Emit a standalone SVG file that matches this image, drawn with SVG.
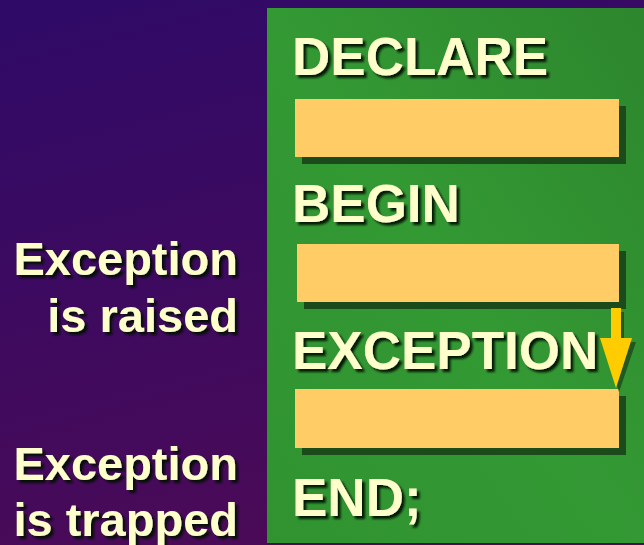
<svg xmlns="http://www.w3.org/2000/svg" width="644" height="545" viewBox="0 0 644 545">
  <style>
    .kw { font-family: "Liberation Sans", Arial, sans-serif; font-weight: bold; font-size: 53px; fill: #FFFFCC; filter: url(#txtShadow); }
    .side { font-family: "Liberation Sans", Arial, sans-serif; font-weight: bold; font-size: 47px; fill: #FFFFCC; text-anchor: end; filter: url(#txtShadow); }
    .slot { fill: #FFCC66; }
    .slotShadow { fill: #1B4A1B; }
  </style>
  <defs>
    <linearGradient id="bg" x1="0" y1="0" x2="0.3" y2="1">
      <stop offset="0" stop-color="#2F0A68"/>
      <stop offset="1" stop-color="#4A0A58"/>
    </linearGradient>
    <linearGradient id="panel" x1="1" y1="0" x2="0" y2="1">
      <stop offset="0" stop-color="#2D862D"/>
      <stop offset="0.5" stop-color="#339933"/>
      <stop offset="1" stop-color="#309330"/>
    </linearGradient>
    <filter id="txtShadow" x="-10%" y="-10%" width="130%" height="140%">
      <feGaussianBlur in="SourceAlpha" stdDeviation="0.8"/>
      <feOffset dx="3" dy="3" result="b"/>
      <feFlood flood-color="#061006" flood-opacity="0.9"/>
      <feComposite in2="b" operator="in"/>
      <feMerge><feMergeNode/><feMergeNode in="SourceGraphic"/></feMerge>
    </filter>
  </defs>

  <rect x="0" y="0" width="644" height="545" fill="url(#bg)"/>

  <!-- code block panel -->
  <g id="panel-block">
    <rect x="267" y="8" width="377" height="535" fill="url(#panel)"/>
  </g>

  <g id="declare">
    <text class="kw" x="292" y="75">DECLARE</text>
    <rect class="slotShadow" x="302" y="106" width="324" height="58"/>
    <rect class="slot" x="295" y="99" width="324" height="58"/>
  </g>

  <g id="begin">
    <text class="kw" x="292" y="222">BEGIN</text>
    <rect class="slotShadow" x="304" y="251" width="322" height="58"/>
    <rect class="slot" x="297" y="244" width="322" height="58"/>
  </g>

  <g id="exception">
    <text class="kw" x="292" y="369">EXCEPTION</text>
    <rect class="slotShadow" x="302" y="396" width="324" height="59"/>
    <rect class="slot" x="295" y="389" width="324" height="59"/>
  </g>

  <g id="end">
    <text class="kw" x="292" y="516">END;</text>
  </g>

  <!-- flow arrow from the EXCEPTION label into the handler -->
  <g id="connectors">
    <path d="M614 312 H624 V342 L636 342 L619 392 L603 342 L614 342 Z" fill="#1B4A1B" opacity="0.8"/>
    <path d="M611 308 H621 V338 L632 338 L616 388 L600 338 L611 338 Z" fill="#FFCC00"/>
  </g>

  <g id="label-raised">
    <text class="side" x="238" y="275">Exception</text>
    <text class="side" x="238" y="332">is raised</text>
  </g>

  <g id="label-trapped">
    <text class="side" x="238" y="480">Exception</text>
    <text class="side" x="238" y="536">is trapped</text>
  </g>
</svg>
